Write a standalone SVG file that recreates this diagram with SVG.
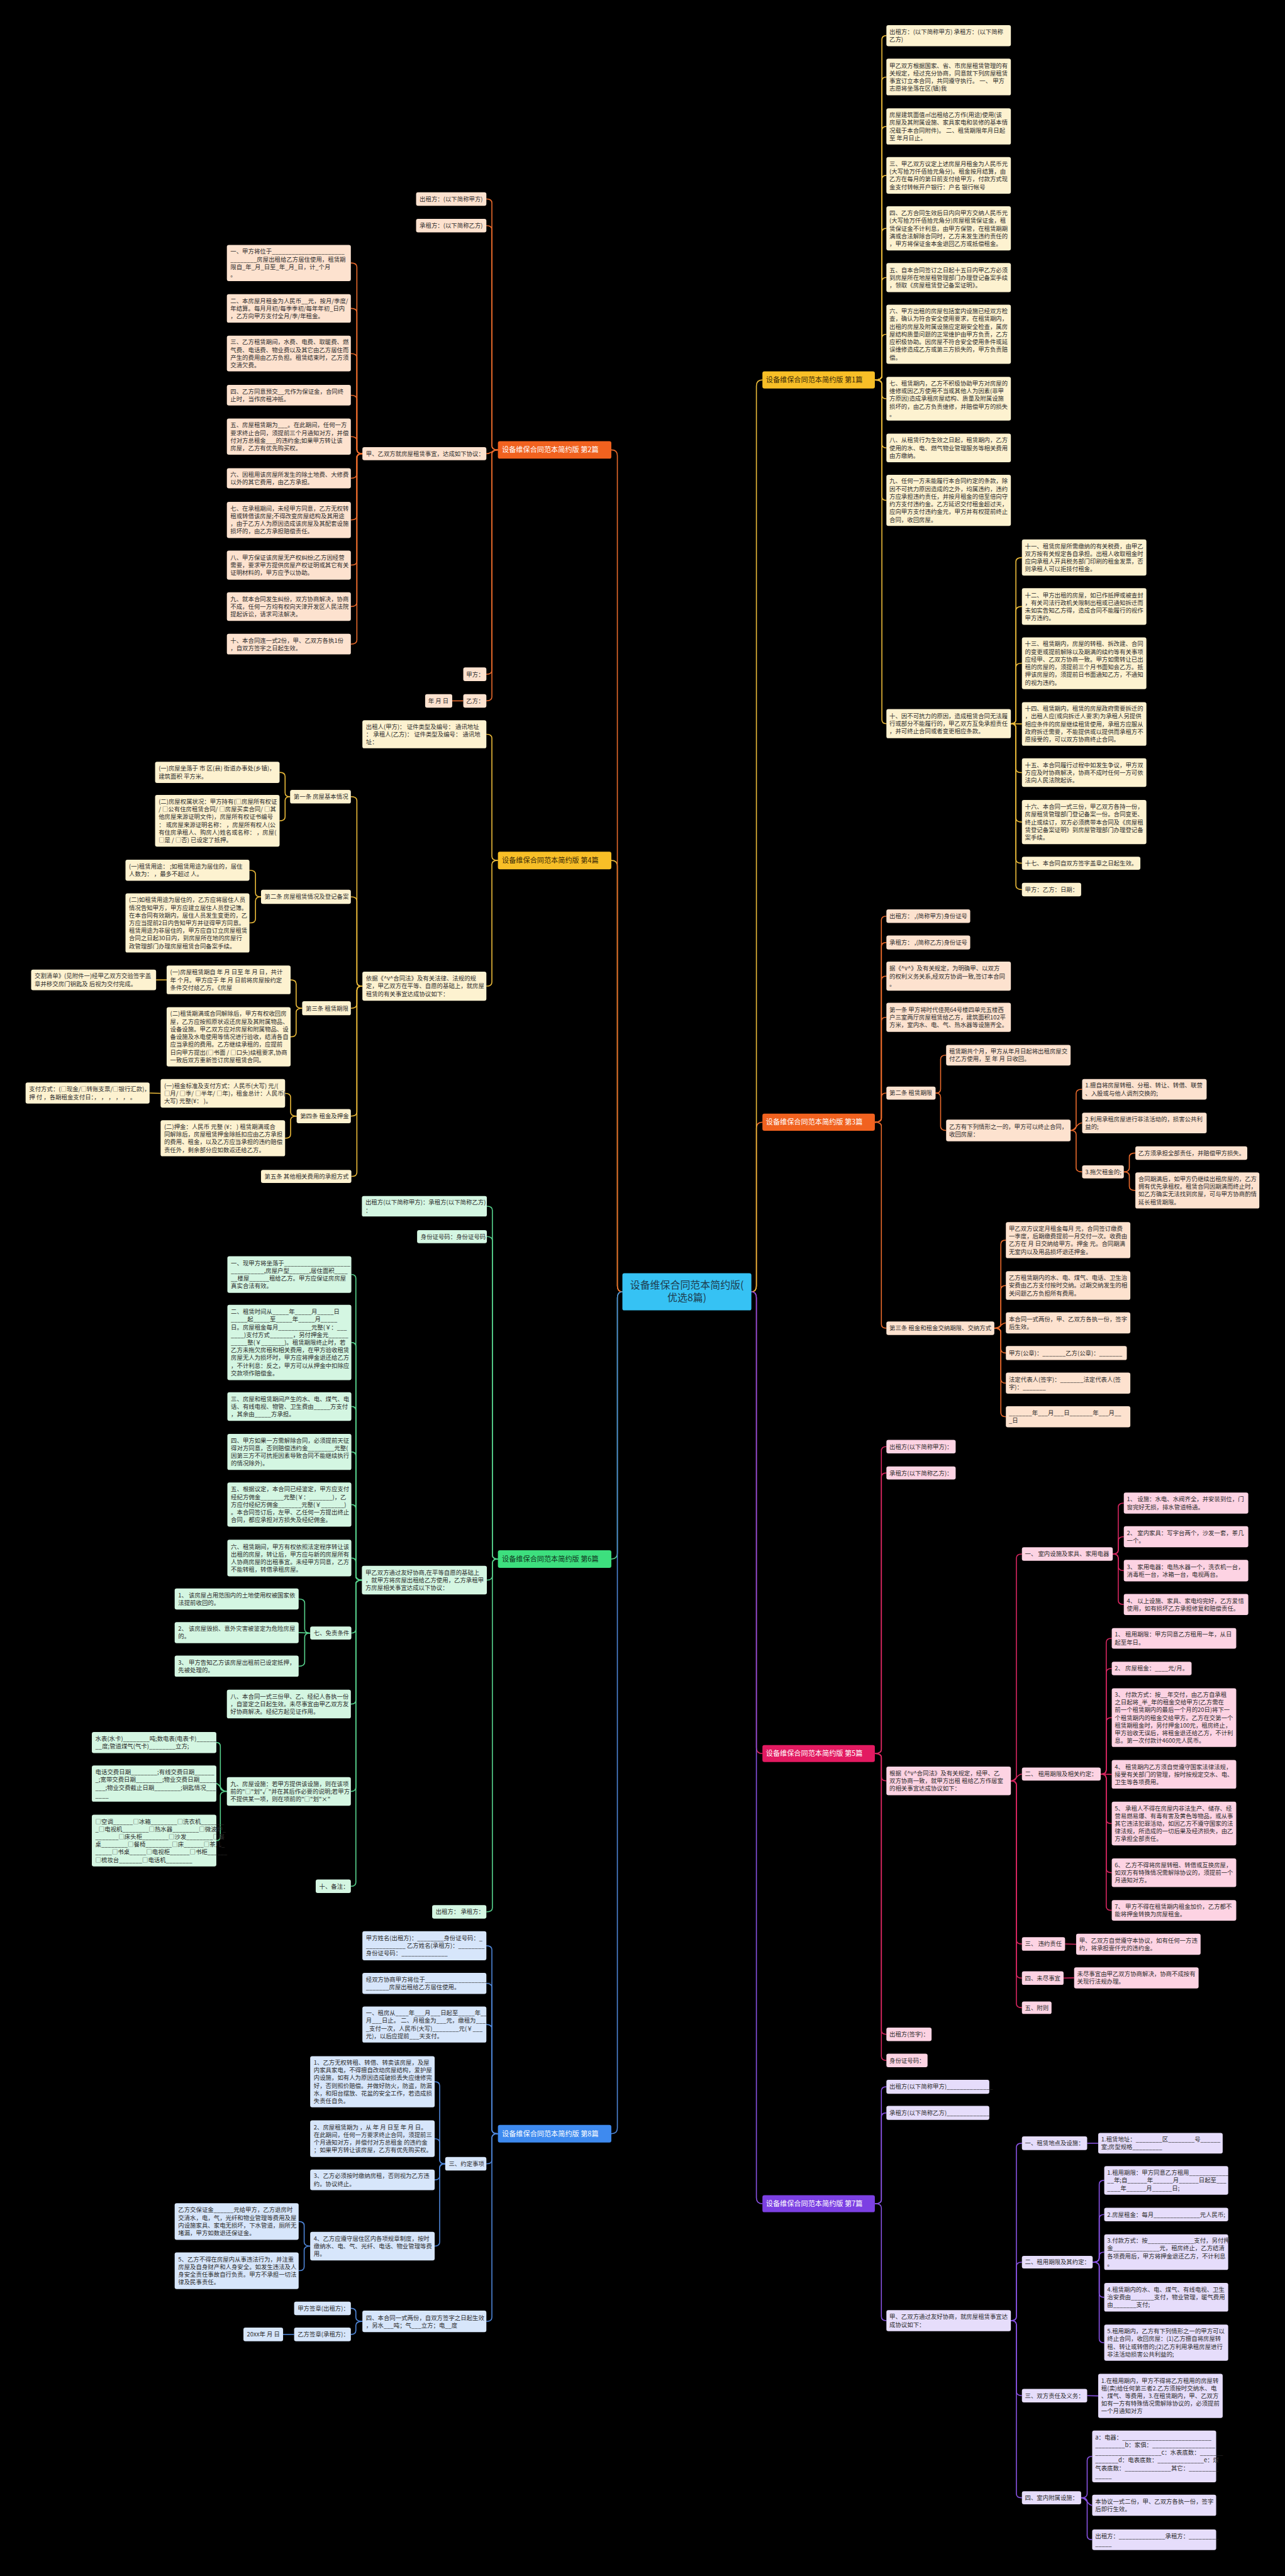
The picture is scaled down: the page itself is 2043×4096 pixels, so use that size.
<svg xmlns="http://www.w3.org/2000/svg" width="2043" height="4096" viewBox="0 0 2043 4096">
<style>
.t{font-family:"Noto Sans CJK SC","Noto Sans",sans-serif;font-size:11.8px;fill:#2d2d2d}
.h{font-family:"Noto Sans CJK SC","Noto Sans",sans-serif;font-size:14px}
.hw{fill:#ffffff}.hd{fill:#3a2a06}.hg{fill:#103520}
.ln{fill:none;stroke-width:2}
.k1{stroke:#ecbb3a}.k2{stroke:#e96a2c}.k5{stroke:#d72660}.k6{stroke:#57d38d}.k7{stroke:#8852e2}.k8{stroke:#4f86d8}
.b1,.b2,.b5,.b6,.b7,.b8,.r1,.r2,.r5,.r6,.r7,.r8,.rc{rx:4px;ry:4px}
.b1{fill:#fdf2d0}.b2{fill:#fde2cf}.b5{fill:#fdd3e3}.b6{fill:#d4f6e2}.b7{fill:#e6ddfb}.b8{fill:#d7e6fb}
.r1{fill:#f8bf27}.r2{fill:#f1621f}.r5{fill:#e31a61}.r6{fill:#3ddf7e}.r7{fill:#7c40e3}.r8{fill:#3e8aef}.rc{fill:#36c2f4}
</style>
<rect x="0" y="0" width="2043" height="4096" fill="#000000"/>
<g transform="scale(0.798)">
<g id="connectors">
<path class="ln k2" d="M1497 2574Q1507 2574 1507 2562V2248Q1507 2236 1519 2236"/>
<path class="ln k1" d="M1497 2574Q1507 2574 1507 2562V769Q1507 757 1519 757"/>
<path class="ln k5" d="M1497 2574Q1507 2574 1507 2586V3482Q1507 3494 1519 3494"/>
<path class="ln k7" d="M1497 2574Q1507 2574 1507 2586V4379Q1507 4391 1519 4391"/>
<path class="ln k1" d="M1240 2574Q1230 2574 1230 2562V1726Q1230 1714.5 1218 1714.5"/>
<path class="ln k2" d="M1240 2574Q1230 2574 1230 2562V908Q1230 896.5 1218 896.5"/>
<path class="ln k6" d="M1240 2574Q1230 2574 1230 2586V3095Q1230 3106.5 1218 3106.5"/>
<path class="ln k8" d="M1240 2574Q1230 2574 1230 2586V4240Q1230 4251.5 1218 4251.5"/>
<g class="ln k1">
<path d="M1743 757Q1757 757 1757 749V79Q1757 71 1766 71"/>
<path d="M1743 757Q1757 757 1757 749V161.5Q1757 153.5 1766 153.5"/>
<path d="M1743 757Q1757 757 1757 749V260Q1757 252 1766 252"/>
<path d="M1743 757Q1757 757 1757 749V357.5Q1757 349.5 1766 349.5"/>
<path d="M1743 757Q1757 757 1757 749V463Q1757 455 1766 455"/>
<path d="M1743 757Q1757 757 1757 749V561Q1757 553 1766 553"/>
<path d="M1743 757Q1757 757 1757 749V674Q1757 666 1766 666"/>
<path d="M1743 757Q1757 757 1757 765V786.5Q1757 794.5 1766 794.5"/>
<path d="M1743 757Q1757 757 1757 765V884.5Q1757 892.5 1766 892.5"/>
<path d="M1743 757Q1757 757 1757 765V989Q1757 997 1766 997"/>
<path d="M1743 757Q1757 757 1757 765V1434Q1757 1442 1766 1442"/>
<path d="M2014 1442Q2024 1442 2024 1434V1119Q2024 1111 2036 1111"/>
<path d="M2014 1442Q2024 1442 2024 1434V1216.5Q2024 1208.5 2036 1208.5"/>
<path d="M2014 1442Q2024 1442 2024 1434V1329.5Q2024 1321.5 2036 1321.5"/>
<path d="M2014 1442L2036 1442.5"/>
<path d="M2014 1442Q2024 1442 2024 1450V1531.5Q2024 1539.5 2036 1539.5"/>
<path d="M2014 1442Q2024 1442 2024 1450V1630Q2024 1638 2036 1638"/>
<path d="M2014 1442Q2024 1442 2024 1450V1712Q2024 1720 2036 1720"/>
<path d="M2014 1442Q2024 1442 2024 1450V1764.5Q2024 1772.5 2036 1772.5"/>
</g>
<g class="ln k2">
<path d="M1743 2236Q1756 2236 1756 2228V1833.5Q1756 1825.5 1766 1825.5"/>
<path d="M1743 2236Q1756 2236 1756 2228V1886Q1756 1878 1766 1878"/>
<path d="M1743 2236Q1756 2236 1756 2228V1953Q1756 1945 1766 1945"/>
<path d="M1743 2236Q1756 2236 1756 2228V2035Q1756 2027 1766 2027"/>
<path d="M1743 2236Q1756 2236 1756 2228V2186Q1756 2178 1766 2178"/>
<path d="M1743 2236Q1756 2236 1756 2244V2638.5Q1756 2646.5 1766 2646.5"/>
<path d="M1864 2178Q1874 2178 1874 2170V2110.5Q1874 2102.5 1885 2102.5"/>
<path d="M1864 2178Q1874 2178 1874 2186V2244.5Q1874 2252.5 1885 2252.5"/>
<path d="M2133 2252.5Q2144 2252.5 2144 2244.5V2178.5Q2144 2170.5 2156 2170.5"/>
<path d="M2133 2252.5C2144 2252.5 2144 2237.5 2156 2237.5"/>
<path d="M2133 2252.5Q2144 2252.5 2144 2260.5V2327Q2144 2335 2156 2335"/>
<path d="M2239 2335Q2250 2335 2250 2327V2305.5Q2250 2297.5 2262 2297.5"/>
<path d="M2239 2335Q2250 2335 2250 2343V2364Q2250 2372 2262 2372"/>
<path d="M1981 2646.5Q1994 2646.5 1994 2638.5V2479Q1994 2471 2004 2471"/>
<path d="M1981 2646.5Q1994 2646.5 1994 2638.5V2569.5Q1994 2561.5 2004 2561.5"/>
<path d="M1981 2646.5C1994 2646.5 1994 2636 2004 2636"/>
<path d="M1981 2646.5Q1994 2646.5 1994 2654.5V2688Q1994 2696 2004 2696"/>
<path d="M1981 2646.5Q1994 2646.5 1994 2654.5V2748Q1994 2756 2004 2756"/>
<path d="M1981 2646.5Q1994 2646.5 1994 2654.5V2815Q1994 2823 2004 2823"/>
</g>
<g class="ln k5">
<path d="M1743 3494Q1756 3494 1756 3486V2890.5Q1756 2882.5 1766 2882.5"/>
<path d="M1743 3494Q1756 3494 1756 3486V2943Q1756 2935 1766 2935"/>
<path d="M1743 3494Q1756 3494 1756 3502V3540.5Q1756 3548.5 1766 3548.5"/>
<path d="M1743 3494Q1756 3494 1756 3502V4045.5Q1756 4053.5 1766 4053.5"/>
<path d="M1743 3494Q1756 3494 1756 3502V4097.5Q1756 4105.5 1766 4105.5"/>
<path d="M2014 3548.5Q2025 3548.5 2025 3540.5V3104.5Q2025 3096.5 2036 3096.5"/>
<path d="M2014 3548.5C2025 3548.5 2025 3535 2036 3535"/>
<path d="M2014 3548.5Q2025 3548.5 2025 3556.5V3865.5Q2025 3873.5 2036 3873.5"/>
<path d="M2014 3548.5Q2025 3548.5 2025 3556.5V3933.5Q2025 3941.5 2036 3941.5"/>
<path d="M2014 3548.5Q2025 3548.5 2025 3556.5V3992.5Q2025 4000.5 2036 4000.5"/>
<path d="M2217 3096.5Q2228 3096.5 2228 3088.5V3003Q2228 2995 2239 2995"/>
<path d="M2217 3096.5Q2228 3096.5 2228 3088.5V3070Q2228 3062 2239 3062"/>
<path d="M2217 3096.5Q2228 3096.5 2228 3104.5V3121.5Q2228 3129.5 2239 3129.5"/>
<path d="M2217 3096.5Q2228 3096.5 2228 3104.5V3189Q2228 3197 2239 3197"/>
<path d="M2193 3535Q2204 3535 2204 3527V3272.5Q2204 3264.5 2215 3264.5"/>
<path d="M2193 3535Q2204 3535 2204 3527V3332.5Q2204 3324.5 2215 3324.5"/>
<path d="M2193 3535Q2204 3535 2204 3527V3430.5Q2204 3422.5 2215 3422.5"/>
<path d="M2193 3535L2215 3535.5"/>
<path d="M2193 3535Q2204 3535 2204 3543V3625.5Q2204 3633.5 2215 3633.5"/>
<path d="M2193 3535Q2204 3535 2204 3543V3723.5Q2204 3731.5 2215 3731.5"/>
<path d="M2193 3535Q2204 3535 2204 3543V3798.5Q2204 3806.5 2215 3806.5"/>
<path d="M2122 3873.5L2144 3874"/>
<path d="M2119 3941.5L2140 3941"/>
</g>
<g class="ln k7">
<path d="M1743 4391Q1756 4391 1756 4383V4166Q1756 4158 1766 4158"/>
<path d="M1743 4391Q1756 4391 1756 4383V4218Q1756 4210 1766 4210"/>
<path d="M1743 4391Q1756 4391 1756 4399V4616Q1756 4624 1766 4624"/>
<path d="M2014 4624Q2025 4624 2025 4616V4278.5Q2025 4270.5 2036 4270.5"/>
<path d="M2014 4624Q2025 4624 2025 4616V4515.5Q2025 4507.5 2036 4507.5"/>
<path d="M2014 4624Q2025 4624 2025 4632V4765.5Q2025 4773.5 2036 4773.5"/>
<path d="M2014 4624Q2025 4624 2025 4632V4969Q2025 4977 2036 4977"/>
<path d="M2166 4270.5L2188 4270.5"/>
<path d="M2177 4507.5Q2190 4507.5 2190 4499.5V4352.5Q2190 4344.5 2200 4344.5"/>
<path d="M2177 4507.5Q2190 4507.5 2190 4499.5V4420.5Q2190 4412.5 2200 4412.5"/>
<path d="M2177 4507.5Q2190 4507.5 2190 4499.5V4495.5Q2190 4487.5 2200 4487.5"/>
<path d="M2177 4507.5Q2190 4507.5 2190 4515.5V4569.5Q2190 4577.5 2200 4577.5"/>
<path d="M2177 4507.5Q2190 4507.5 2190 4515.5V4660Q2190 4668 2200 4668"/>
<path d="M2166 4773.5L2188 4774"/>
<path d="M2154 4977Q2166 4977 2166 4969V4902.5Q2166 4894.5 2176 4894.5"/>
<path d="M2154 4977C2166 4977 2166 4992 2176 4992"/>
<path d="M2154 4977Q2166 4977 2166 4985V5052.5Q2166 5060.5 2176 5060.5"/>
</g>
<g class="ln k2">
<path d="M992 896.5Q980 896.5 980 888.5V404.5Q980 396.5 969 396.5"/>
<path d="M992 896.5Q980 896.5 980 888.5V457.5Q980 449.5 969 449.5"/>
<path d="M992 896.5C980 896.5 980 904 969 904"/>
<path d="M992 896.5Q980 896.5 980 904.5V1335.5Q980 1343.5 969 1343.5"/>
<path d="M992 896.5Q980 896.5 980 904.5V1388.5Q980 1396.5 969 1396.5"/>
<path d="M923 1396.5L901 1396.5"/>
<path d="M722 904Q711 904 711 896V532Q711 524 699 524"/>
<path d="M722 904Q711 904 711 896V622.5Q711 614.5 699 614.5"/>
<path d="M722 904Q711 904 711 896V712.5Q711 704.5 699 704.5"/>
<path d="M722 904Q711 904 711 896V795.5Q711 787.5 699 787.5"/>
<path d="M722 904Q711 904 711 896V878Q711 870 699 870"/>
<path d="M722 904Q711 904 711 912V945Q711 953 699 953"/>
<path d="M722 904Q711 904 711 912V1028Q711 1036 699 1036"/>
<path d="M722 904Q711 904 711 912V1118Q711 1126 699 1126"/>
<path d="M722 904Q711 904 711 912V1200.5Q711 1208.5 699 1208.5"/>
<path d="M722 904Q711 904 711 912V1275.5Q711 1283.5 699 1283.5"/>
</g>
<g class="ln k1">
<path d="M992 1714.5Q980 1714.5 980 1706.5V1471Q980 1463 969 1463"/>
<path d="M992 1714.5Q980 1714.5 980 1722.5V1957Q980 1965 969 1965"/>
<path d="M722 1965Q711 1965 711 1957V1595.5Q711 1587.5 699 1587.5"/>
<path d="M722 1965Q711 1965 711 1957V1795Q711 1787 699 1787"/>
<path d="M722 1965Q711 1965 711 1973V2001Q711 2009 699 2009"/>
<path d="M722 1965Q711 1965 711 1973V2216Q711 2224 699 2224"/>
<path d="M722 1965Q711 1965 711 1973V2336Q711 2344 700 2344"/>
<path d="M578 1587.5Q568 1587.5 568 1579.5V1547Q568 1539 557 1539"/>
<path d="M578 1587.5Q568 1587.5 568 1595.5V1627.5Q568 1635.5 557 1635.5"/>
<path d="M520 1787Q509 1787 509 1779V1742Q509 1734 497 1734"/>
<path d="M520 1787Q509 1787 509 1795V1831Q509 1839 497 1839"/>
<path d="M602 2009Q590 2009 590 2001V1960.5Q590 1952.5 579 1952.5"/>
<path d="M602 2009Q590 2009 590 2017V2058Q590 2066 579 2066"/>
<path d="M332 1952.5L311 1952.5"/>
<path d="M591 2224Q579 2224 579 2216V2186.5Q579 2178.5 568 2178.5"/>
<path d="M591 2224Q579 2224 579 2232V2260Q579 2268 568 2268"/>
<path d="M320 2178.5L298 2178"/>
</g>
<g class="ln k6">
<path d="M992 3106.5Q981 3106.5 981 3098.5V2411.5Q981 2403.5 970 2403.5"/>
<path d="M992 3106.5Q981 3106.5 981 3098.5V2472Q981 2464 970 2464"/>
<path d="M992 3106.5Q981 3106.5 981 3114.5V3140.5Q981 3148.5 970 3148.5"/>
<path d="M992 3106.5Q981 3106.5 981 3114.5V3801.5Q981 3809.5 969 3809.5"/>
<path d="M721 3148.5Q709 3148.5 709 3140.5V2547.5Q709 2539.5 700 2539.5"/>
<path d="M721 3148.5Q709 3148.5 709 3140.5V2683Q709 2675 700 2675"/>
<path d="M721 3148.5Q709 3148.5 709 3140.5V2810.5Q709 2802.5 700 2802.5"/>
<path d="M721 3148.5Q709 3148.5 709 3140.5V2901Q709 2893 700 2893"/>
<path d="M721 3148.5Q709 3148.5 709 3140.5V3006Q709 2998 700 2998"/>
<path d="M721 3148.5Q709 3148.5 709 3140.5V3112.5Q709 3104.5 700 3104.5"/>
<path d="M721 3148.5Q709 3148.5 709 3156.5V3246Q709 3254 700 3254"/>
<path d="M721 3148.5Q709 3148.5 709 3156.5V3387.5Q709 3395.5 699 3395.5"/>
<path d="M721 3148.5Q709 3148.5 709 3156.5V3561.5Q709 3569.5 699 3569.5"/>
<path d="M721 3148.5Q709 3148.5 709 3156.5V3750.5Q709 3758.5 699 3758.5"/>
<path d="M618 3254Q607 3254 607 3246V3194Q607 3186 595 3186"/>
<path d="M618 3254L595 3253"/>
<path d="M618 3254Q607 3254 607 3262V3312Q607 3320 595 3320"/>
<path d="M452 3569.5Q439 3569.5 439 3561.5V3480Q439 3472 431 3472"/>
<path d="M452 3569.5C439 3569.5 439 3554 431 3554"/>
<path d="M452 3569.5Q439 3569.5 439 3577.5V3659.5Q439 3667.5 431 3667.5"/>
</g>
<g class="ln k8">
<path d="M992 4251.5Q980 4251.5 980 4243.5V3885Q980 3877 969 3877"/>
<path d="M992 4251.5Q980 4251.5 980 4243.5V3960Q980 3952 969 3952"/>
<path d="M992 4251.5Q980 4251.5 980 4243.5V4042Q980 4034 969 4034"/>
<path d="M992 4251.5Q980 4251.5 980 4259.5V4303.5Q980 4311.5 969 4311.5"/>
<path d="M992 4251.5Q980 4251.5 980 4259.5V4617.5Q980 4625.5 969 4625.5"/>
<path d="M887 4311.5Q876 4311.5 876 4303.5V4156Q876 4148 866 4148"/>
<path d="M887 4311.5Q876 4311.5 876 4303.5V4269.5Q876 4261.5 866 4261.5"/>
<path d="M887 4311.5Q876 4311.5 876 4319.5V4335.5Q876 4343.5 866 4343.5"/>
<path d="M887 4311.5Q876 4311.5 876 4319.5V4467.5Q876 4475.5 866 4475.5"/>
<path d="M618 4475.5Q606 4475.5 606 4467.5V4434.5Q606 4426.5 595 4426.5"/>
<path d="M618 4475.5Q606 4475.5 606 4483.5V4516.5Q606 4524.5 595 4524.5"/>
<path d="M722 4625.5Q709 4625.5 709 4617.5V4607.5Q709 4599.5 699 4599.5"/>
<path d="M722 4625.5Q709 4625.5 709 4633.5V4643.5Q709 4651.5 699 4651.5"/>
<path d="M586 4651.5L564 4651.5"/>
</g>
</g>

<g id="root"><rect class="rc" x="1240" y="2537" width="257" height="74"/><text x="1368.5" y="2568" text-anchor="middle" style="font-family:'Noto Sans CJK SC',sans-serif;font-size:20px;fill:#1d3b4d">设备维保合同范本简约版(<tspan x="1368.5" dy="25">优选8篇)</tspan></text></g>

<g id="b1"><rect class="r1" x="1519" y="740" width="224" height="34"/><text class="h hd" x="1526" y="762">设备维保合同范本简约版 第1篇</text></g>
<g id="b3"><rect class="r2" x="1519" y="2219" width="224" height="34"/><text class="h hw" x="1526" y="2241">设备维保合同范本简约版 第3篇</text></g>
<g id="b5"><rect class="r5" x="1519" y="3477" width="224" height="34"/><text class="h hw" x="1526" y="3499">设备维保合同范本简约版 第5篇</text></g>
<g id="b7"><rect class="r7" x="1519" y="4374" width="224" height="34"/><text class="h hw" x="1526" y="4396">设备维保合同范本简约版 第7篇</text></g>
<g id="b2"><rect class="r2" x="992" y="879" width="226" height="35"/><text class="h hw" x="1000" y="901.5">设备维保合同范本简约版 第2篇</text></g>
<g id="b4"><rect class="r1" x="992" y="1697" width="226" height="35"/><text class="h hd" x="1000" y="1719.5">设备维保合同范本简约版 第4篇</text></g>
<g id="b6"><rect class="r6" x="992" y="3089" width="226" height="35"/><text class="h hg" x="1000" y="3111.5">设备维保合同范本简约版 第6篇</text></g>
<g id="b8"><rect class="r8" x="992" y="4234" width="226" height="35"/><text class="h hw" x="1000" y="4256.5">设备维保合同范本简约版 第8篇</text></g>

<g id="s1">
<g id="s1a"><rect class="b1" x="1766" y="50" width="248" height="42"/><text class="t" x="1772" y="67.7">出租方：(以下简称甲方) 承租方：(以下简称<tspan x="1772" dy="15.3">乙方)</tspan></text></g>
<g id="s1b"><rect class="b1" x="1766" y="117" width="248" height="73"/><text class="t" x="1772" y="134.9">甲乙双方根据国家、省、市房屋租赁管理的有<tspan x="1772" dy="15.3">关规定，经过充分协商，同意就下列房屋租赁</tspan><tspan x="1772" dy="15.3">事宜订立本合同，共同遵守执行。 一、 甲方</tspan><tspan x="1772" dy="15.3">志愿将坐落在区(镇)我</tspan></text></g>
<g id="s1c"><rect class="b1" x="1766" y="216" width="248" height="72"/><text class="t" x="1772" y="233.4">房屋建筑面值㎡出租给乙方作(用途)使用(该<tspan x="1772" dy="15.3">房屋及其附属设施、家具家电和装修的基本情</tspan><tspan x="1772" dy="15.3">况载于本合同附件)。 二、租赁期限年月日起</tspan><tspan x="1772" dy="15.3">至 年月日止。</tspan></text></g>
<g id="s1d"><rect class="b1" x="1766" y="313" width="248" height="73"/><text class="t" x="1772" y="330.9">三、甲乙双方议定上述房屋月租金为人民币元<tspan x="1772" dy="15.3">(大写拾万仟佰拾元角分)。租金按月结算，由</tspan><tspan x="1772" dy="15.3">乙方在每月的第日前支付给甲方，付款方式现</tspan><tspan x="1772" dy="15.3">金支付转帐开户银行：户名 银行帐号</tspan></text></g>
<g id="s1e"><rect class="b1" x="1766" y="411" width="248" height="88"/><text class="t" x="1772" y="428.7">四、乙方合同生效后日内向甲方交纳人民币元<tspan x="1772" dy="15.3">(大写拾万仟佰拾元角分)房屋租赁保证金，租</tspan><tspan x="1772" dy="15.3">赁保证金不计利息，由甲方保管，在租赁期期</tspan><tspan x="1772" dy="15.3">满或合法解除合同时，乙方未发生违约责任的</tspan><tspan x="1772" dy="15.3">，甲方将保证金本金退回乙方或抵偿租金。</tspan></text></g>
<g id="s1f"><rect class="b1" x="1766" y="524" width="248" height="58"/><text class="t" x="1772" y="542">五、自本合同签订之日起十五日内甲乙方必须<tspan x="1772" dy="15.3">到房屋所在地屋租管理部门办理登记备案手续</tspan><tspan x="1772" dy="15.3">，领取《房屋租赁登记备案证明》。</tspan></text></g>
<g id="s1g"><rect class="b1" x="1766" y="607" width="248" height="118"/><text class="t" x="1772" y="624.4">六、甲方出租的房屋包括室内设施已经双方检<tspan x="1772" dy="15.3">查，确认为符合安全使用要求，在租赁期内，</tspan><tspan x="1772" dy="15.3">出租的房屋及附属设施应定期安全检查，属房</tspan><tspan x="1772" dy="15.3">屋结构质量问题的正常维护由甲方负责，乙方</tspan><tspan x="1772" dy="15.3">应积极协助。因房屋不符合安全使用条件或延</tspan><tspan x="1772" dy="15.3">误维修造成乙方或第三方损失的，甲方负责赔</tspan><tspan x="1772" dy="15.3">偿。</tspan></text></g>
<g id="s1h"><rect class="b1" x="1766" y="751" width="248" height="87"/><text class="t" x="1772" y="768.2">七、租赁期内，乙方不积极协助甲方对房屋的<tspan x="1772" dy="15.3">维修或因乙方使用不当或其他人为因素(非甲</tspan><tspan x="1772" dy="15.3">方原因)造成承租房屋结构、质量及附属设施</tspan><tspan x="1772" dy="15.3">损坏的，由乙方负责维修，并赔偿甲方的损失</tspan><tspan x="1772" dy="15.3">。</tspan></text></g>
<g id="s1i"><rect class="b1" x="1766" y="864" width="248" height="57"/><text class="t" x="1772" y="881.5">八、从租赁行为生效之日起，租赁期内，乙方<tspan x="1772" dy="15.3">使用的水、电、燃气物业管理服务等相关费用</tspan><tspan x="1772" dy="15.3">由方缴纳。</tspan></text></g>
<g id="s1j"><rect class="b1" x="1766" y="946" width="248" height="102"/><text class="t" x="1772" y="963">九、任何一方未能履行本合同约定的条款，除<tspan x="1772" dy="15.3">因不可抗力原因造成的之外，均属违约，违约</tspan><tspan x="1772" dy="15.3">方应承担违约责任，并按月租金的倍至倍向守</tspan><tspan x="1772" dy="15.3">约方支付违约金。乙方延迟交付租金超过天，</tspan><tspan x="1772" dy="15.3">应向甲方支付违约金元，甲方并有权提前终止</tspan><tspan x="1772" dy="15.3">合同，收回房屋。</tspan></text></g>
<g id="s1k"><rect class="b1" x="1766" y="1413" width="248" height="58"/><text class="t" x="1772" y="1431">十、因不可抗力的原因，造成租赁合同无法履<tspan x="1772" dy="15.3">行或部分不能履行的，甲乙双方互免承担责任</tspan><tspan x="1772" dy="15.3">，并可终止合同或者变更相应条款。</tspan></text></g>
<g id="s1k1"><rect class="b1" x="2036" y="1075" width="248" height="72"/><text class="t" x="2042" y="1092.4">十一、租赁房屋所需缴纳的有关税费，由甲乙<tspan x="2042" dy="15.3">双方按有关规定各自承担。出租人收取租金时</tspan><tspan x="2042" dy="15.3">应向承租人开具税务部门印刷的租金发票，否</tspan><tspan x="2042" dy="15.3">则承租人可以拒技付租金。</tspan></text></g>
<g id="s1k2"><rect class="b1" x="2036" y="1172" width="248" height="73"/><text class="t" x="2042" y="1189.9">十二、甲方出租的房屋，如已作抵押或被查封<tspan x="2042" dy="15.3">，有关司法行政机关限制出租或已通知拆迁而</tspan><tspan x="2042" dy="15.3">未如实告知乙方得，造成合同不能履行的视作</tspan><tspan x="2042" dy="15.3">甲方违约。</tspan></text></g>
<g id="s1k3"><rect class="b1" x="2036" y="1270" width="248" height="103"/><text class="t" x="2042" y="1287.6">十三、租赁期内，房屋的转租、拆改建、合同<tspan x="2042" dy="15.3">的变更或提前解除以及期满的续约等有关事项</tspan><tspan x="2042" dy="15.3">应经甲、乙双方协商一致。甲方如需转让已出</tspan><tspan x="2042" dy="15.3">租的房屋的，须提前三个月书面知会乙方。抵</tspan><tspan x="2042" dy="15.3">押该房屋的，须提前日书面通知乙方，不通知</tspan><tspan x="2042" dy="15.3">的视为违约。</tspan></text></g>
<g id="s1k4"><rect class="b1" x="2036" y="1399" width="248" height="87"/><text class="t" x="2042" y="1416.2">十四、租赁期内，租赁的房屋政府需要拆迁的<tspan x="2042" dy="15.3">，出租人应(或向拆迁人要求)为承租人另提供</tspan><tspan x="2042" dy="15.3">相应条件的房屋继续租赁使用，承租方应服从</tspan><tspan x="2042" dy="15.3">政府拆迁需要，不能提供或以提供而承租方不</tspan><tspan x="2042" dy="15.3">愿接受的，可以双方协商终止合同。</tspan></text></g>
<g id="s1k5"><rect class="b1" x="2036" y="1511" width="248" height="57"/><text class="t" x="2042" y="1528.5">十五、本合同履行过程中如发生争议，甲方双<tspan x="2042" dy="15.3">方应及时协商解决，协商不成时任何一方可依</tspan><tspan x="2042" dy="15.3">法向人民法院起诉。</tspan></text></g>
<g id="s1k6"><rect class="b1" x="2036" y="1594" width="248" height="88"/><text class="t" x="2042" y="1611.7">十六、本合同一式三份，甲乙双方各持一份，<tspan x="2042" dy="15.3">房屋租赁管理部门登记备案一份。合同变更、</tspan><tspan x="2042" dy="15.3">终止或续订，双方必须携带本合同及《房屋租</tspan><tspan x="2042" dy="15.3">赁登记备案证明》到房屋管理部门办理登记备</tspan><tspan x="2042" dy="15.3">案手续。</tspan></text></g>
<g id="s1k7"><rect class="b1" x="2036" y="1707" width="236" height="26"/><text class="t" x="2042" y="1724.3">十七、本合同自双方签字盖章之日起生效。</text></g>
<g id="s1k8"><rect class="b1" x="2036" y="1759" width="118" height="27"/><text class="t" x="2042" y="1776.8">甲方：乙方：日期：</text></g>
</g>

<g id="s3">
<g id="s3a"><rect class="b2" x="1766" y="1812" width="167" height="27"/><text class="t" x="1772" y="1829.8">出租方： ,(简称甲方)身份证号</text></g>
<g id="s3b"><rect class="b2" x="1766" y="1864" width="167" height="28"/><text class="t" x="1772" y="1882.3">承租方： ,(简称乙方)身份证号</text></g>
<g id="s3c"><rect class="b2" x="1766" y="1916" width="248" height="58"/><text class="t" x="1772" y="1934">据《^v^》及有关规定，为明确甲、以双方<tspan x="1772" dy="15.3">的权利义务关系,经双方协调一致,签订本合同</tspan><tspan x="1772" dy="15.3">。</tspan></text></g>
<g id="s3d"><rect class="b2" x="1766" y="1998" width="248" height="58"/><text class="t" x="1772" y="2016">第一条 甲方将时代佳苑64号楼四单元五楼西<tspan x="1772" dy="15.3">户三室两厅房屋租赁给乙方，建筑面积102平</tspan><tspan x="1772" dy="15.3">方米，室内水、电、气、热水器等设施齐全。</tspan></text></g>
<g id="s3e"><rect class="b2" x="1766" y="2165" width="98" height="26"/><text class="t" x="1772" y="2182.3">第二条 租赁期限</text></g>
<g id="s3e1"><rect class="b2" x="1885" y="2082" width="248" height="41"/><text class="t" x="1891" y="2099.2">租赁期共个月，甲方从年月日起将出租房屋交<tspan x="1891" dy="15.3">付乙方使用，至 年 月 日收回。</tspan></text></g>
<g id="s3e2"><rect class="b2" x="1885" y="2231" width="248" height="43"/><text class="t" x="1891" y="2249.2">乙方有下列情形之一的，甲方可以终止合同，<tspan x="1891" dy="15.3">收回房屋：</tspan></text></g>
<g id="s3e21"><rect class="b2" x="2156" y="2150" width="248" height="41"/><text class="t" x="2162" y="2167.2">1.擅自将房屋转租、分租、转让、转借、联营<tspan x="2162" dy="15.3">、入股或与他人调剂交换的;</tspan></text></g>
<g id="s3e22"><rect class="b2" x="2156" y="2217" width="248" height="41"/><text class="t" x="2162" y="2234.2">2.利用承租房屋进行非法活动的，损害公共利<tspan x="2162" dy="15.3">益的;</tspan></text></g>
<g id="s3e23"><rect class="b2" x="2156" y="2322" width="83" height="26"/><text class="t" x="2162" y="2339.3">3.拖欠租金的;</text></g>
<g id="s3e231"><rect class="b2" x="2262" y="2284" width="223" height="27"/><text class="t" x="2268" y="2301.8">乙方须承担全部责任，并赔偿甲方损失。</text></g>
<g id="s3e232"><rect class="b2" x="2262" y="2336" width="247" height="72"/><text class="t" x="2268" y="2353.4">合同期满后，如甲方仍继续出租房屋的，乙方<tspan x="2268" dy="15.3">拥有优先承租权。租赁合同因期满而终止时，</tspan><tspan x="2268" dy="15.3">如乙方确实无法找到房屋，可与甲方协商酌情</tspan><tspan x="2268" dy="15.3">延长租赁期限。</tspan></text></g>
<g id="s3f"><rect class="b2" x="1766" y="2633" width="215" height="27"/><text class="t" x="1772" y="2650.8">第三条 租金和租金交纳期限、交纳方式</text></g>
<g id="s3f1"><rect class="b2" x="2004" y="2435" width="248" height="72"/><text class="t" x="2010" y="2452.4">甲乙双方议定月租金每月 元，合同签订缴费<tspan x="2010" dy="15.3">一季度，后期缴费提前一月交付一次。收费由</tspan><tspan x="2010" dy="15.3">乙方在 月 日交纳给甲方。押金 元。合同期满</tspan><tspan x="2010" dy="15.3">无室内以及用品损坏退还押金。</tspan></text></g>
<g id="s3f2"><rect class="b2" x="2004" y="2533" width="248" height="57"/><text class="t" x="2010" y="2550.5">乙方租赁期内的水、电、煤气、电话、卫生治<tspan x="2010" dy="15.3">安费由乙方支付按时交纳。过期交纳发生的相</tspan><tspan x="2010" dy="15.3">关问题乙方负担所有费用。</tspan></text></g>
<g id="s3f3"><rect class="b2" x="2004" y="2615" width="248" height="42"/><text class="t" x="2010" y="2632.7">本合同一式两份，甲、乙双方各执一份，签字<tspan x="2010" dy="15.3">后生效。</tspan></text></g>
<g id="s3f4"><rect class="b2" x="2004" y="2682" width="241" height="28"/><text class="t" x="2010" y="2700.3">甲方(公章)：_______乙方(公章)：_______</text></g>
<g id="s3f5"><rect class="b2" x="2004" y="2735" width="248" height="42"/><text class="t" x="2010" y="2752.7">法定代表人(签字)：_______法定代表人(签<tspan x="2010" dy="15.3">字)：_______</tspan></text></g>
<g id="s3f6"><rect class="b2" x="2004" y="2802" width="248" height="42"/><text class="t" x="2010" y="2819.7">_______年___月___日_______年___月__<tspan x="2010" dy="15.3">_日</tspan></text></g>
</g>

<g id="s5">
<g id="s5a"><rect class="b5" x="1766" y="2869" width="138" height="27"/><text class="t" x="1772" y="2886.8">出租方(以下简称甲方)：</text></g>
<g id="s5b"><rect class="b5" x="1766" y="2922" width="138" height="26"/><text class="t" x="1772" y="2939.3">承租方(以下简称乙方)：</text></g>
<g id="s5c"><rect class="b5" x="1766" y="3520" width="248" height="57"/><text class="t" x="1772" y="3537.5">根据《^v^合同法》及有关规定，经甲、乙<tspan x="1772" dy="15.3">双方协商一致，就甲方出租 租给乙方作居室</tspan><tspan x="1772" dy="15.3">的相关事宜达成协议如下：</tspan></text></g>
<g id="s5d"><rect class="b5" x="1766" y="4040" width="90" height="27"/><text class="t" x="1772" y="4057.8">出租方(签字)：</text></g>
<g id="s5e"><rect class="b5" x="1766" y="4092" width="82" height="27"/><text class="t" x="1772" y="4109.8">身份证号码：</text></g>
<g id="s5c1"><rect class="b5" x="2036" y="3083" width="181" height="27"/><text class="t" x="2042" y="3100.8">一、 室内设施及家具、家用电器</text></g>
<g id="s5c2"><rect class="b5" x="2036" y="3522" width="157" height="26"/><text class="t" x="2042" y="3539.3">二、 租用期限及相关约定：</text></g>
<g id="s5c3"><rect class="b5" x="2036" y="3860" width="86" height="27"/><text class="t" x="2042" y="3877.8">三、 违约责任</text></g>
<g id="s5c4"><rect class="b5" x="2036" y="3928" width="83" height="27"/><text class="t" x="2042" y="3945.8">四、未尽事宜</text></g>
<g id="s5c5"><rect class="b5" x="2036" y="3988" width="59" height="25"/><text class="t" x="2042" y="4004.8">五、附则</text></g>
<g id="s5c11"><rect class="b5" x="2239" y="2974" width="248" height="42"/><text class="t" x="2245" y="2991.7">1、 设施：水电、水阀齐全，并安装到位，门<tspan x="2245" dy="15.3">窗完好无损，排水管道畅通。</tspan></text></g>
<g id="s5c12"><rect class="b5" x="2239" y="3041" width="248" height="42"/><text class="t" x="2245" y="3058.7">2、 室内家具：写字台两个，沙发一套，茶几<tspan x="2245" dy="15.3">一个。</tspan></text></g>
<g id="s5c13"><rect class="b5" x="2239" y="3108" width="248" height="43"/><text class="t" x="2245" y="3126.2">3、 家用电器：电热水器一个，洗衣机一台，<tspan x="2245" dy="15.3">消毒柜一台，冰箱一台，电视两台。</tspan></text></g>
<g id="s5c14"><rect class="b5" x="2239" y="3176" width="248" height="42"/><text class="t" x="2245" y="3193.7">4、 以上设施、家具、家电均完好，乙方爱惜<tspan x="2245" dy="15.3">使用，如有损坏乙方承担修复和赔偿责任。</tspan></text></g>
<g id="s5c21"><rect class="b5" x="2215" y="3244" width="248" height="41"/><text class="t" x="2221" y="3261.2">1、 租用期限：甲方同意乙方租用一年，从日<tspan x="2221" dy="15.3">起至年日。</tspan></text></g>
<g id="s5c22"><rect class="b5" x="2215" y="3311" width="159" height="27"/><text class="t" x="2221" y="3328.8">2、 房屋租金：____元/月。</text></g>
<g id="s5c23"><rect class="b5" x="2215" y="3364" width="248" height="117"/><text class="t" x="2221" y="3380.9">3、 付款方式：按__年交付，由乙方自承租<tspan x="2221" dy="15.3">之日起将_半_年的租金交给甲方(乙方需在</tspan><tspan x="2221" dy="15.3">前一个租赁期内的最后一个月的20日)将下一</tspan><tspan x="2221" dy="15.3">个租赁期内的租金交给甲方。乙方在交第一个</tspan><tspan x="2221" dy="15.3">租赁期租金时，另付押金100元，租房终止，</tspan><tspan x="2221" dy="15.3">甲方验收无误后，将租金退还给乙方，不计利</tspan><tspan x="2221" dy="15.3">息。第一次付款计4600元人民币。</tspan></text></g>
<g id="s5c24"><rect class="b5" x="2215" y="3507" width="248" height="57"/><text class="t" x="2221" y="3524.5">4、 租赁期内乙方须自觉遵守国家法律法规，<tspan x="2221" dy="15.3">接受有关部门的管理，按时按规定交水、电、</tspan><tspan x="2221" dy="15.3">卫生等各项费用。</tspan></text></g>
<g id="s5c25"><rect class="b5" x="2215" y="3590" width="248" height="87"/><text class="t" x="2221" y="3607.2">5、 承租人不得在房屋内非法生产、储存、经<tspan x="2221" dy="15.3">营易燃易爆、有毒有害及黄色等物品，或从事</tspan><tspan x="2221" dy="15.3">其它违法犯罪活动，如因乙方不遵守国家的法</tspan><tspan x="2221" dy="15.3">律法规，所造成的一切后果及经济损失，由乙</tspan><tspan x="2221" dy="15.3">方承担全部责任。</tspan></text></g>
<g id="s5c26"><rect class="b5" x="2215" y="3703" width="248" height="57"/><text class="t" x="2221" y="3720.5">6、 乙方不得将房屋转租、转借或互换房屋，<tspan x="2221" dy="15.3">如双方有特殊情况需解除协议的，须提前一个</tspan><tspan x="2221" dy="15.3">月通知对方。</tspan></text></g>
<g id="s5c27"><rect class="b5" x="2215" y="3786" width="248" height="41"/><text class="t" x="2221" y="3803.2">7、 甲方不得在租赁期内租金加价，乙方都不<tspan x="2221" dy="15.3">能将押金转换为房屋租金。</tspan></text></g>
<g id="s5c31"><rect class="b5" x="2144" y="3853" width="248" height="42"/><text class="t" x="2150" y="3870.7">甲、乙双方自觉遵守本协议，如有任何一方违<tspan x="2150" dy="15.3">约，将承担壹仟元的违约金。</tspan></text></g>
<g id="s5c41"><rect class="b5" x="2140" y="3920" width="248" height="42"/><text class="t" x="2146" y="3937.7">未尽事宜由甲乙双方协商解决，协商不成按有<tspan x="2146" dy="15.3">关现行法规办理。</tspan></text></g>
</g>

<g id="s7">
<g id="s7a"><rect class="b7" x="1766" y="4144" width="205" height="28"/><text class="t" x="1772" y="4162.3">出租方(以下简称甲方)______________</text></g>
<g id="s7b"><rect class="b7" x="1766" y="4196" width="205" height="28"/><text class="t" x="1772" y="4214.3">承租方(以下简称乙方)_____________</text></g>
<g id="s7c"><rect class="b7" x="1766" y="4603" width="248" height="42"/><text class="t" x="1772" y="4620.7">甲、乙双方通过友好协商，就房屋租赁事宜达<tspan x="1772" dy="15.3">成协议如下：</tspan></text></g>
<g id="s7c1"><rect class="b7" x="2036" y="4257" width="130" height="27"/><text class="t" x="2042" y="4274.8">一、租赁地点及设施：</text></g>
<g id="s7c2"><rect class="b7" x="2036" y="4495" width="141" height="25"/><text class="t" x="2042" y="4511.8">二、租用期限及其约定：</text></g>
<g id="s7c3"><rect class="b7" x="2036" y="4760" width="130" height="27"/><text class="t" x="2042" y="4777.8">三、双方责任及义务：</text></g>
<g id="s7c4"><rect class="b7" x="2036" y="4964" width="118" height="26"/><text class="t" x="2042" y="4981.3">四、室内附属设施：</text></g>
<g id="s7c11"><rect class="b7" x="2188" y="4250" width="248" height="41"/><text class="t" x="2194" y="4267.2">1.租赁地址：________区________号______<tspan x="2194" dy="15.3">室;房型规格_________</tspan></text></g>
<g id="s7c21"><rect class="b7" x="2200" y="4316" width="247" height="57"/><text class="t" x="2206" y="4333.5">1.租用期限：甲方同意乙方租用____________<tspan x="2206" dy="15.3">__年;自______年______月______日起至___</tspan><tspan x="2206" dy="15.3">____年______月______日;</tspan></text></g>
<g id="s7c22"><rect class="b7" x="2200" y="4399" width="247" height="27"/><text class="t" x="2206" y="4416.8">2.房屋租金：每月______________元人民币;</text></g>
<g id="s7c23"><rect class="b7" x="2200" y="4452" width="247" height="71"/><text class="t" x="2206" y="4468.9">3.付款方式：按______________支付，另付押<tspan x="2206" dy="15.3">金______________元，租房终止，乙方结清</tspan><tspan x="2206" dy="15.3">各项费用后，甲方将押金退还乙方，不计利息</tspan><tspan x="2206" dy="15.3">。</tspan></text></g>
<g id="s7c24"><rect class="b7" x="2200" y="4549" width="247" height="57"/><text class="t" x="2206" y="4566.5">4.租赁期内的水、电、煤气、有线电视、卫生<tspan x="2206" dy="15.3">治安费由_______支付，物业管理，暖气费用</tspan><tspan x="2206" dy="15.3">由_______支付;</tspan></text></g>
<g id="s7c25"><rect class="b7" x="2200" y="4632" width="247" height="72"/><text class="t" x="2206" y="4649.4">5.租用期内，乙方有下列情形之一的甲方可以<tspan x="2206" dy="15.3">终止合同，收回房屋：(1)乙方擅自将房屋转</tspan><tspan x="2206" dy="15.3">租、转让或转借的;(2)乙方利用承租房屋进行</tspan><tspan x="2206" dy="15.3">非法活动损害公共利益的;</tspan></text></g>
<g id="s7c31"><rect class="b7" x="2188" y="4730" width="248" height="88"/><text class="t" x="2194" y="4747.7">1.在租用期内，甲方不得将乙方租用的房屋转<tspan x="2194" dy="15.3">租(卖)给任何第三者2.乙方须按时交纳水、电</tspan><tspan x="2194" dy="15.3">、煤气、等费用，3.在租赁期内，甲、乙双方</tspan><tspan x="2194" dy="15.3">如有一方有特殊情况需解除协议的，必须提前</tspan><tspan x="2194" dy="15.3">一个月通知对方</tspan></text></g>
<g id="s7c41"><rect class="b7" x="2176" y="4843" width="247" height="103"/><text class="t" x="2182" y="4860.6">a：电器：___________________________<tspan x="2182" dy="15.3">_________b：家俱：___________________</tspan><tspan x="2182" dy="15.3">____________________c：水表底数：_______</tspan><tspan x="2182" dy="15.3">_______d：电表底数：______________e：煤</tspan><tspan x="2182" dy="15.3">气表底数：______________其它：_________</tspan><tspan x="2182" dy="15.3">_____</tspan></text></g>
<g id="s7c42"><rect class="b7" x="2176" y="4971" width="247" height="42"/><text class="t" x="2182" y="4988.7">本协议一式二份，甲、乙双方各执一份，签字<tspan x="2182" dy="15.3">后即行生效。</tspan></text></g>
<g id="s7c43"><rect class="b7" x="2176" y="5040" width="247" height="41"/><text class="t" x="2182" y="5057.2">出租方：______________承租方：_________<tspan x="2182" dy="15.3">_____</tspan></text></g>
</g>

<g id="s2">
<g id="s2a"><rect class="b2" x="829" y="383" width="140" height="27"/><text class="t" x="836" y="400.8">出租方：(以下简称甲方)</text></g>
<g id="s2b"><rect class="b2" x="829" y="436" width="140" height="27"/><text class="t" x="836" y="453.8">承租方：(以下简称乙方)</text></g>
<g id="s2c"><rect class="b2" x="722" y="891" width="247" height="26"/><text class="t" x="729" y="908.3">甲、乙双方就房屋租赁事宜，达成如下协议：</text></g>
<g id="s2d"><rect class="b2" x="923" y="1330" width="46" height="27"/><text class="t" x="929" y="1347.8">甲方：</text></g>
<g id="s2e"><rect class="b2" x="923" y="1383" width="46" height="27"/><text class="t" x="929" y="1400.8">乙方：</text></g>
<g id="s2e1"><rect class="b2" x="847" y="1383" width="54" height="27"/><text class="t" x="853" y="1400.8">年 月 日</text></g>
<g id="s2c1"><rect class="b2" x="452" y="488" width="247" height="72"/><text class="t" x="459" y="505.4">一、甲方将位于______________________<tspan x="459" dy="15.3">________房屋出租给乙方居住使用，租赁期</tspan><tspan x="459" dy="15.3">限自_年_月_日至_年_月_日，计_个月</tspan><tspan x="459" dy="15.3">。</tspan></text></g>
<g id="s2c2"><rect class="b2" x="452" y="586" width="247" height="57"/><text class="t" x="459" y="603.5">二、本房屋月租金为人民币__元，按月/季度/<tspan x="459" dy="15.3">年结算。每月月初/每季季初/每年年初_日内</tspan><tspan x="459" dy="15.3">，乙方向甲方支付全月/季/年租金。</tspan></text></g>
<g id="s2c3"><rect class="b2" x="452" y="669" width="247" height="71"/><text class="t" x="459" y="685.9">三、乙方租赁期间，水费、电费、取暖费、燃<tspan x="459" dy="15.3">气费、电话费、物业费以及其它由乙方居住而</tspan><tspan x="459" dy="15.3">产生的费用由乙方负担。租赁结束时，乙方须</tspan><tspan x="459" dy="15.3">交清欠费。</tspan></text></g>
<g id="s2c4"><rect class="b2" x="452" y="767" width="247" height="41"/><text class="t" x="459" y="784.2">四、乙方同意预交__元作为保证金，合同终<tspan x="459" dy="15.3">止时，当作房租冲抵。</tspan></text></g>
<g id="s2c5"><rect class="b2" x="452" y="834" width="247" height="72"/><text class="t" x="459" y="851.4">五、房屋租赁期为___。在此期间，任何一方<tspan x="459" dy="15.3">要求终止合同，须提前三个月通知对方，并偿</tspan><tspan x="459" dy="15.3">付对方总租金___的违约金;如果甲方转让该</tspan><tspan x="459" dy="15.3">房屋，乙方有优先购买权。</tspan></text></g>
<g id="s2c6"><rect class="b2" x="452" y="933" width="247" height="40"/><text class="t" x="459" y="949.7">六、因租用该房屋所发生的除土地费、大修费<tspan x="459" dy="15.3">以外的其它费用，由乙方承担。</tspan></text></g>
<g id="s2c7"><rect class="b2" x="452" y="1000" width="247" height="72"/><text class="t" x="459" y="1017.4">七、在承租期间，未经甲方同意，乙方无权转<tspan x="459" dy="15.3">租或转借该房屋;不得改变房屋结构及其用途</tspan><tspan x="459" dy="15.3">，由于乙方人为原因造成该房屋及其配套设施</tspan><tspan x="459" dy="15.3">损坏的，由乙方承担赔偿责任。</tspan></text></g>
<g id="s2c8"><rect class="b2" x="452" y="1097" width="247" height="58"/><text class="t" x="459" y="1115">八、甲方保证该房屋无产权纠纷;乙方因经营<tspan x="459" dy="15.3">需要，要求甲方提供房屋产权证明或其它有关</tspan><tspan x="459" dy="15.3">证明材料的，甲方应予以协助。</tspan></text></g>
<g id="s2c9"><rect class="b2" x="452" y="1180" width="247" height="57"/><text class="t" x="459" y="1197.5">九、就本合同发生纠纷，双方协商解决，协商<tspan x="459" dy="15.3">不成，任何一方均有权向天津开发区人民法院</tspan><tspan x="459" dy="15.3">提起诉讼，请求司法解决。</tspan></text></g>
<g id="s2c10"><rect class="b2" x="452" y="1263" width="247" height="41"/><text class="t" x="459" y="1280.2">十、本合同连一式2份，甲、乙双方各执1份<tspan x="459" dy="15.3">，自双方签字之日起生效。</tspan></text></g>
</g>

<g id="s4">
<g id="s4a"><rect class="b1" x="722" y="1435" width="247" height="56"/><text class="t" x="729" y="1452">出租人(甲方)： 证件类型及编号： 通讯地址<tspan x="729" dy="15.3">： 承租人(乙方)： 证件类型及编号： 通讯地</tspan><tspan x="729" dy="15.3">址：</tspan></text></g>
<g id="s4b"><rect class="b1" x="722" y="1936" width="247" height="58"/><text class="t" x="729" y="1954">依据《^v^合同法》及有关法律、法规的规<tspan x="729" dy="15.3">定，甲乙双方在平等、自愿的基础上，就房屋</tspan><tspan x="729" dy="15.3">租赁的有关事宜达成协议如下：</tspan></text></g>
<g id="s4b1"><rect class="b1" x="578" y="1574" width="121" height="27"/><text class="t" x="585" y="1591.8">第一条 房屋基本情况</text></g>
<g id="s4b2"><rect class="b1" x="520" y="1773" width="179" height="28"/><text class="t" x="527" y="1791.3">第二条 房屋租赁情况及登记备案</text></g>
<g id="s4b3"><rect class="b1" x="602" y="1995" width="97" height="28"/><text class="t" x="609" y="2013.3">第三条 租赁期限</text></g>
<g id="s4b4"><rect class="b1" x="591" y="2210" width="108" height="28"/><text class="t" x="598" y="2228.3">第四条 租金及押金</text></g>
<g id="s4b5"><rect class="b1" x="520" y="2331" width="180" height="26"/><text class="t" x="527" y="2348.3">第五条 其他相关费用的承担方式</text></g>
<g id="s4b11"><rect class="b1" x="309" y="1518" width="248" height="42"/><text class="t" x="316" y="1535.7">(一)房屋坐落于 市 区(县) 街道办事处(乡镇)，<tspan x="316" dy="15.3">建筑面积 平方米。</tspan></text></g>
<g id="s4b12"><rect class="b1" x="309" y="1584" width="248" height="103"/><text class="t" x="316" y="1601.6">(二)房屋权属状况：甲方持有(□房屋所有权证<tspan x="316" dy="15.3">/ □公有住房租赁合同/ □房屋买卖合同/ □其</tspan><tspan x="316" dy="15.3">他房屋来源证明文件)，房屋所有权证书编号</tspan><tspan x="316" dy="15.3">： 或房屋来源证明名称： ，房屋所有权人(公</tspan><tspan x="316" dy="15.3">有住房承租人、购房人)姓名或名称： ，房屋(</tspan><tspan x="316" dy="15.3">□是 / □否) 已设定了抵押。</tspan></text></g>
<g id="s4b21"><rect class="b1" x="250" y="1713" width="247" height="42"/><text class="t" x="257" y="1730.7">(一)租赁用途： ;如租赁用途为居住的，居住<tspan x="257" dy="15.3">人数为： ，最多不超过 人。</tspan></text></g>
<g id="s4b22"><rect class="b1" x="250" y="1780" width="247" height="118"/><text class="t" x="257" y="1797.4">(二)如租赁用途为居住的，乙方应将居住人员<tspan x="257" dy="15.3">情况告知甲方，甲方应建立居住人员登记簿。</tspan><tspan x="257" dy="15.3">在本合同有效期内，居住人员发生变更的，乙</tspan><tspan x="257" dy="15.3">方应当提前2日内告知甲方并征得甲方同意。</tspan><tspan x="257" dy="15.3">租赁用途为非居住的，甲方应自订立房屋租赁</tspan><tspan x="257" dy="15.3">合同之日起30日内，到房屋所在地的房屋行</tspan><tspan x="257" dy="15.3">政管理部门办理房屋租赁合同备案手续。</tspan></text></g>
<g id="s4b31"><rect class="b1" x="332" y="1924" width="247" height="57"/><text class="t" x="339" y="1941.5">(一)房屋租赁期自 年 月 日至 年 月 日，共计<tspan x="339" dy="15.3">年 个月。甲方应于 年 月 日前将房屋按约定</tspan><tspan x="339" dy="15.3">条件交付给乙方。《房屋</tspan></text></g>
<g id="s4b311"><rect class="b1" x="62" y="1932" width="249" height="41"/><text class="t" x="69" y="1949.2">交割清单》(见附件一)经甲乙双方交验签字盖<tspan x="69" dy="15.3">章并移交房门钥匙及 后视为交付完成。</tspan></text></g>
<g id="s4b32"><rect class="b1" x="332" y="2007" width="247" height="118"/><text class="t" x="339" y="2024.4">(二)租赁期满或合同解除后，甲方有权收回房<tspan x="339" dy="15.3">屋，乙方应按照原状返还房屋及其附属物品、</tspan><tspan x="339" dy="15.3">设备设施。甲乙双方应对房屋和附属物品、设</tspan><tspan x="339" dy="15.3">备设施及水电使用等情况进行验收，结清各自</tspan><tspan x="339" dy="15.3">应当承担的费用。乙方继续承租的，应提前</tspan><tspan x="339" dy="15.3">日向甲方提出(□书面 / □口头)续租要求,协商</tspan><tspan x="339" dy="15.3">一致后双方重新签订房屋租赁合同。</tspan></text></g>
<g id="s4b41"><rect class="b1" x="320" y="2150" width="248" height="57"/><text class="t" x="327" y="2167.5">(一)租金标准及支付方式：人民币(大写) 元/(<tspan x="327" dy="15.3">□月/ □季/ □半年/ □年)，租金总计：人民币(</tspan><tspan x="327" dy="15.3">大写) 元整(¥： )。</tspan></text></g>
<g id="s4b411"><rect class="b1" x="51" y="2157" width="247" height="42"/><text class="t" x="58" y="2174.7">支付方式：(□现金/□转账支票/□银行汇款)，<tspan x="58" dy="15.3">押 付 ，各期租金支付日：， ， ， ， ， 。</tspan></text></g>
<g id="s4b42"><rect class="b1" x="320" y="2232" width="248" height="72"/><text class="t" x="327" y="2249.4">(二)押金：人民币 元整 (¥： ) 租赁期满或合<tspan x="327" dy="15.3">同解除后，房屋租赁押金除抵扣应由乙方承担</tspan><tspan x="327" dy="15.3">的费用、租金，以及乙方应当承担的违约赔偿</tspan><tspan x="327" dy="15.3">责任外，剩余部分应如数返还给乙方。</tspan></text></g>
</g>

<g id="s6">
<g id="s6a"><rect class="b6" x="721" y="2383" width="249" height="41"/><text class="t" x="728" y="2400.2">出租方(以下简称甲方)：承租方(以下简称乙方)<tspan x="728" dy="15.3">：</tspan></text></g>
<g id="s6b"><rect class="b6" x="831" y="2451" width="139" height="26"/><text class="t" x="838" y="2468.3">身份证号码：身份证号码：</text></g>
<g id="s6c"><rect class="b6" x="721" y="3120" width="249" height="57"/><text class="t" x="728" y="3137.5">甲乙双方通过友好协商,在平等自愿的基础上<tspan x="728" dy="15.3">，就甲方将房屋出租给乙方使用，乙方承租甲</tspan><tspan x="728" dy="15.3">方房屋相关事宜达成以下协议：</tspan></text></g>
<g id="s6d"><rect class="b6" x="861" y="3796" width="108" height="27"/><text class="t" x="868" y="3813.8">出租方： 承租方：</text></g>
<g id="s6c1"><rect class="b6" x="453" y="2503" width="247" height="73"/><text class="t" x="460" y="2520.9">一、现甲方将坐落于____________________<tspan x="460" dy="15.3">__________,房屋户型______,居住面积____</tspan><tspan x="460" dy="15.3">__楼屋______租给乙方。甲方应保证房房屋</tspan><tspan x="460" dy="15.3">真实合法有效。</tspan></text></g>
<g id="s6c2"><rect class="b6" x="453" y="2600" width="247" height="150"/><text class="t" x="460" y="2618.1">二、租赁时间从_____年_____月_____日<tspan x="460" dy="15.3">_____起_____至_____年_____月_____</tspan><tspan x="460" dy="15.3">日。房屋租金每月__________元整(￥：___</tspan><tspan x="460" dy="15.3">____)支付方式_______，另付押金元______</tspan><tspan x="460" dy="15.3">_____整(￥_______)。租赁期限终止时，若</tspan><tspan x="460" dy="15.3">乙方未拖欠房租和相关费用，在甲方验收租赁</tspan><tspan x="460" dy="15.3">房屋无人为损坏时，甲方应将押金退还给乙方</tspan><tspan x="460" dy="15.3">，不计利息：反之，甲方可以从押金中扣除应</tspan><tspan x="460" dy="15.3">交款项作赔偿金。</tspan></text></g>
<g id="s6c3"><rect class="b6" x="453" y="2774" width="247" height="57"/><text class="t" x="460" y="2791.5">三、房屋和租赁期间产生的水、电、煤气、电<tspan x="460" dy="15.3">话、有线电视、物管、卫生费由_____方支付</tspan><tspan x="460" dy="15.3">，其余由_____方承担。</tspan></text></g>
<g id="s6c4"><rect class="b6" x="453" y="2857" width="247" height="72"/><text class="t" x="460" y="2874.4">四、甲方如果一方需解除合同，必须提前天征<tspan x="460" dy="15.3">得对方同意，否则赔偿违约金________元整(</tspan><tspan x="460" dy="15.3">因第三方不可抗拒因素导致合同不能继续执行</tspan><tspan x="460" dy="15.3">的情况除外)。</tspan></text></g>
<g id="s6c5"><rect class="b6" x="453" y="2954" width="247" height="88"/><text class="t" x="460" y="2971.7">五、根据议定，本合同已经鉴定，甲方应支付<tspan x="460" dy="15.3">经纪方佣金_______元整(￥：_______)，乙</tspan><tspan x="460" dy="15.3">方应付经纪方佣金_______元整(￥_______)</tspan><tspan x="460" dy="15.3">。本合同签订后，左甲、乙任何一方提出终止</tspan><tspan x="460" dy="15.3">合同，都应承担对方损失及经纪佣金。</tspan></text></g>
<g id="s6c6"><rect class="b6" x="453" y="3068" width="247" height="73"/><text class="t" x="460" y="3085.9">六、租赁期间，甲方有权依照法定程序转让该<tspan x="460" dy="15.3">出租的房屋，转让后，甲方应与新的房屋所有</tspan><tspan x="460" dy="15.3">人协商房屋的出租事宜。未经甲方同意，乙方</tspan><tspan x="460" dy="15.3">不能转租，转借承租房屋。</tspan></text></g>
<g id="s6c7"><rect class="b6" x="618" y="3241" width="82" height="26"/><text class="t" x="625" y="3258.3">七、免责条件</text></g>
<g id="s6c71"><rect class="b6" x="348" y="3165" width="247" height="42"/><text class="t" x="355" y="3182.7">1、 该房屋占用范围内的土地使用权被国家依<tspan x="355" dy="15.3">法提前收回的。</tspan></text></g>
<g id="s6c72"><rect class="b6" x="348" y="3232" width="247" height="42"/><text class="t" x="355" y="3249.7">2、 该房屋毁损、意外灾害被鉴定为危险房屋<tspan x="355" dy="15.3">的。</tspan></text></g>
<g id="s6c73"><rect class="b6" x="348" y="3299" width="247" height="42"/><text class="t" x="355" y="3316.7">3、 甲方告知乙方该房屋出租前已设定抵押，<tspan x="355" dy="15.3">先被处理的。</tspan></text></g>
<g id="s6c8"><rect class="b6" x="452" y="3367" width="247" height="57"/><text class="t" x="459" y="3384.5">八、本合同一式三份甲、乙、经纪人各执一份<tspan x="459" dy="15.3">，自鉴定之日起生效。未尽事宜由甲乙双方友</tspan><tspan x="459" dy="15.3">好协商解决。经纪方起见证作用。</tspan></text></g>
<g id="s6c9"><rect class="b6" x="452" y="3541" width="247" height="57"/><text class="t" x="459" y="3558.5">九、房屋设施：若甲方提供该设施，则在该项<tspan x="459" dy="15.3">前的"□"划"√"并在其后作必要的说明;若甲方</tspan><tspan x="459" dy="15.3">不提供某一项，则在项前的"□"划"×"</tspan></text></g>
<g id="s6c91"><rect class="b6" x="183" y="3451" width="248" height="42"/><text class="t" x="190" y="3468.7">水表(水卡)________吨;数电表(电表卡)______<tspan x="190" dy="15.3">__度;管道煤气(气卡)________立方;</tspan></text></g>
<g id="s6c92"><rect class="b6" x="183" y="3518" width="248" height="72"/><text class="t" x="190" y="3535.4">电话交费日期________;有线交费日期______<tspan x="190" dy="15.3">_;宽带交费日期________;物业交费日期_____</tspan><tspan x="190" dy="15.3">___;物业交费截止日期________;钥匙情况___</tspan><tspan x="190" dy="15.3">____</tspan></text></g>
<g id="s6c93"><rect class="b6" x="183" y="3616" width="248" height="103"/><text class="t" x="190" y="3633.6">□空调______□冰箱________□洗衣机_______<tspan x="190" dy="15.3">_□电视机________□热水器________□微波炉_</tspan><tspan x="190" dy="15.3">_______□床头柜________□沙发________□餐</tspan><tspan x="190" dy="15.3">桌________□餐椅________□床______□茶几_</tspan><tspan x="190" dy="15.3">_____□书桌_____□电视柜______□书柜______</tspan><tspan x="190" dy="15.3">□梳妆台_______□电话机________</tspan></text></g>
<g id="s6c10"><rect class="b6" x="629" y="3745" width="70" height="27"/><text class="t" x="636" y="3762.8">十、备注：</text></g>
</g>

<g id="s8">
<g id="s8a"><rect class="b8" x="722" y="3848" width="247" height="58"/><text class="t" x="729" y="3866">甲方姓名(出租方)：________身份证号码：_<tspan x="729" dy="15.3">____________ 乙方姓名(承租方)：________</tspan><tspan x="729" dy="15.3">身份证号码：______________</tspan></text></g>
<g id="s8b"><rect class="b8" x="722" y="3931" width="247" height="42"/><text class="t" x="729" y="3948.7">经双方协商甲方将位于____________________<tspan x="729" dy="15.3">_______房屋出租给乙方居住使用。</tspan></text></g>
<g id="s8c"><rect class="b8" x="722" y="3998" width="247" height="72"/><text class="t" x="729" y="4015.4">一、租房从____年___月___日起至_____年__<tspan x="729" dy="15.3">月___日止。 二、月租金为___元，缴租为___</tspan><tspan x="729" dy="15.3">_支付一次，人民币(大写)________元(￥___</tspan><tspan x="729" dy="15.3">元)，以后应提前___天支付。</tspan></text></g>
<g id="s8d"><rect class="b8" x="887" y="4298" width="82" height="27"/><text class="t" x="894" y="4315.8">三、约定事项</text></g>
<g id="s8e"><rect class="b8" x="722" y="4604" width="247" height="43"/><text class="t" x="729" y="4622.2">四、本合同一式两份，自双方签字之日起生效<tspan x="729" dy="15.3">，另水___吨；气___立方；电__度</tspan></text></g>
<g id="s8d1"><rect class="b8" x="618" y="4097" width="248" height="102"/><text class="t" x="625" y="4114.1">1、乙方无权转租、转借、转卖该房屋，及屋<tspan x="625" dy="15.3">内家具家电，不得擅自改动房屋结构，爱护屋</tspan><tspan x="625" dy="15.3">内设施，如有人为原因造成破损丢失应维修完</tspan><tspan x="625" dy="15.3">好，否则照价赔偿。并做好防火，防盗，防漏</tspan><tspan x="625" dy="15.3">水，和阳台摆放、花盆的安全工作，若造成损</tspan><tspan x="625" dy="15.3">失责任自负。</tspan></text></g>
<g id="s8d2"><rect class="b8" x="618" y="4225" width="248" height="73"/><text class="t" x="625" y="4242.9">2、房屋租赁期为 ，从 年 月 日至 年 月 日。<tspan x="625" dy="15.3">在此期间，任何一方要求终止合同，须提前三</tspan><tspan x="625" dy="15.3">个月通知对方，并偿付对方总租金 的违约金</tspan><tspan x="625" dy="15.3">；如果甲方转让该房屋，乙方有优先购买权。</tspan></text></g>
<g id="s8d3"><rect class="b8" x="618" y="4323" width="248" height="41"/><text class="t" x="625" y="4340.2">3、乙方必须按时缴纳房租，否则视为乙方违<tspan x="625" dy="15.3">约。协议终止。</tspan></text></g>
<g id="s8d4"><rect class="b8" x="618" y="4447" width="248" height="57"/><text class="t" x="625" y="4464.5">4、乙方应遵守居住区内各项规章制度，按时<tspan x="625" dy="15.3">缴纳水、电、气、光纤、电话、物业管理等费</tspan><tspan x="625" dy="15.3">用。</tspan></text></g>
<g id="s8d41"><rect class="b8" x="348" y="4390" width="247" height="73"/><text class="t" x="355" y="4407.9">乙方交保证金______元给甲方，乙方退房时<tspan x="355" dy="15.3">交清水，电，气，光纤和物业管理等费用及屋</tspan><tspan x="355" dy="15.3">内设施家具、家电无损坏，下水管道，厕所无</tspan><tspan x="355" dy="15.3">堵漏，甲方如数退还保证金。</tspan></text></g>
<g id="s8d42"><rect class="b8" x="348" y="4488" width="247" height="73"/><text class="t" x="355" y="4505.9">5、乙方不得在房屋内从事违法行为，并注重<tspan x="355" dy="15.3">房屋及自身财产和人身安全。如发生违法及人</tspan><tspan x="355" dy="15.3">身安全责任事故自行负责。甲方不承担一切法</tspan><tspan x="355" dy="15.3">律及民事责任。</tspan></text></g>
<g id="s8e1"><rect class="b8" x="586" y="4586" width="113" height="27"/><text class="t" x="593" y="4603.8">甲方签章(出租方)：</text></g>
<g id="s8e2"><rect class="b8" x="586" y="4638" width="113" height="27"/><text class="t" x="593" y="4655.8">乙方签章(承租方)：</text></g>
<g id="s8e21"><rect class="b8" x="485" y="4638" width="79" height="27"/><text class="t" x="492" y="4655.8">20xx年 月 日</text></g>
</g>
</g>
</svg>
